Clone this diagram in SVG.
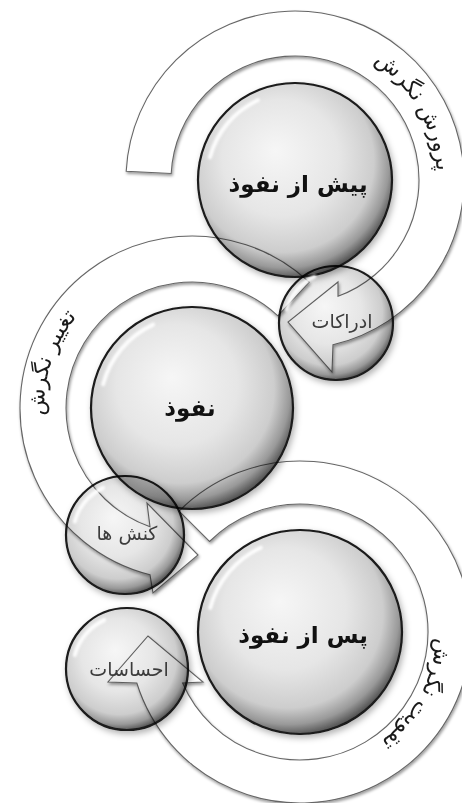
<svg xmlns="http://www.w3.org/2000/svg" width="462" height="803" viewBox="0 0 462 803">
<defs>
<style>
.ring{fill:#fff;stroke:#666;stroke-width:1.1;filter:url(#rsh)}
.sph{fill:url(#gS);stroke:#1a1a1a;stroke-width:2.2;filter:url(#ssh);mix-blend-mode:multiply}
.hl{fill:none;stroke:#fff;stroke-width:4;stroke-linecap:round;opacity:.9;filter:url(#blur1)}
.main{font-family:"DejaVu Sans",sans-serif;font-size:23px;font-weight:bold;fill:#111;text-anchor:middle}
.small{font-family:"DejaVu Sans",sans-serif;font-size:19px;fill:#3c3c3c;text-anchor:middle}
.rl{font-family:"DejaVu Sans",sans-serif;font-size:22px;fill:#1a1a1a;text-anchor:middle}
</style>
<radialGradient id="gS" cx="45%" cy="42%" r="60%" fx="40%" fy="35%">
<stop offset="0" stop-color="#f6f6f6"/>
<stop offset="0.5" stop-color="#e6e6e6"/>
<stop offset="0.78" stop-color="#cdcdcd"/>
<stop offset="0.9" stop-color="#999"/>
<stop offset="1" stop-color="#444"/>
</radialGradient>
<filter id="rsh" x="-10%" y="-10%" width="120%" height="120%">
<feGaussianBlur in="SourceAlpha" stdDeviation="1.5" result="b"/>
<feOffset in="b" dx="1" dy="1.5" result="o"/>
<feFlood flood-color="#000" flood-opacity="0.4"/>
<feComposite in2="o" operator="in" result="s"/>
<feMerge><feMergeNode in="s"/><feMergeNode in="SourceGraphic"/></feMerge>
</filter>
<filter id="ssh" x="-15%" y="-15%" width="135%" height="135%">
<feGaussianBlur in="SourceAlpha" stdDeviation="3" result="b"/>
<feOffset in="b" dx="2" dy="3" result="o"/>
<feFlood flood-color="#000" flood-opacity="0.3"/>
<feComposite in2="o" operator="in" result="s"/>
<feMerge><feMergeNode in="s"/><feMergeNode in="SourceGraphic"/></feMerge>
</filter>
<filter id="blur1"><feGaussianBlur stdDeviation="1.2"/></filter>
<path id="tp1" d="M246.4,46.6 A142,142 0 0 1 386.3,288.8" fill="none"/>
<path id="tp2" d="M124.9,534.3 A141,141 0 0 1 211.9,268.4" fill="none"/>
<path id="tp3" d="M383.7,524.8 A136,136 0 0 1 258,761.3" fill="none"/>
</defs>
<rect width="462" height="803" fill="#fff"/>

<g id="connectors">
<path id="ring1" class="ring" d="M126.2,171.2 A169,169 0 1 1 333,344.7 L332,372 L288,322 L338,282 L338,296.3 A124,124 0 1 0 171.2,173.5 Z"/>
<path id="ring2" class="ring" d="M309.3,282.2 A172,172 0 1 0 150,574.8 L153,593 L198,555 L147,503 L150,526.8 A126,126 0 1 1 277.9,315.8 Z"/>
<path id="ring3" class="ring" d="M179.1,511.1 A171,171 0 1 1 136.8,683 L108,682 L148,636 L203,682 L182.6,683 A128,128 0 1 0 209.5,541.5 Z"/>
<text class="rl"><textPath href="#tp1" startOffset="50%">پرورش نگرش</textPath></text>
<text class="rl"><textPath href="#tp2" startOffset="50%">تغییر نگرش</textPath></text>
<text class="rl"><textPath href="#tp3" startOffset="50%">تقویت نگرش</textPath></text>
</g>

<g id="node-pre">
<circle class="sph" cx="295" cy="180" r="97"/>
<path class="hl" d="M210,157.2 A88,88 0 0 1 257.8,100.2"/>
<text class="main" x="298" y="192">پیش از نفوذ</text>
</g>
<g id="node-influence">
<circle class="sph" cx="192" cy="408" r="101"/>
<path class="hl" d="M103.1,384.2 A92,92 0 0 1 153.1,324.6"/>
<text class="main" x="190" y="416">نفوذ</text>
</g>
<g id="node-post">
<circle class="sph" cx="300" cy="632" r="102"/>
<path class="hl" d="M210.2,607.9 A93,93 0 0 1 260.7,547.7"/>
<text class="main" x="303" y="643">پس از نفوذ</text>
</g>
<g id="node-perceptions">
<circle class="sph" cx="336" cy="323" r="57"/>
<path class="hl" d="M286.7,309.8 A51,51 0 0 1 314.4,276.8"/>
<text class="small" x="342" y="328">ادراکات</text>
</g>
<g id="node-actions">
<circle class="sph" cx="125" cy="535" r="59"/>
<path class="hl" d="M74.8,521.5 A52,52 0 0 1 103,487.9"/>
<text class="small" x="127" y="540">کنش ها</text>
</g>
<g id="node-feelings">
<circle class="sph" cx="127" cy="669" r="61"/>
<path class="hl" d="M74.8,655 A54,54 0 0 1 104.2,620.1"/>
<text class="small" x="129" y="676">احساسات</text>
</g>
</svg>
